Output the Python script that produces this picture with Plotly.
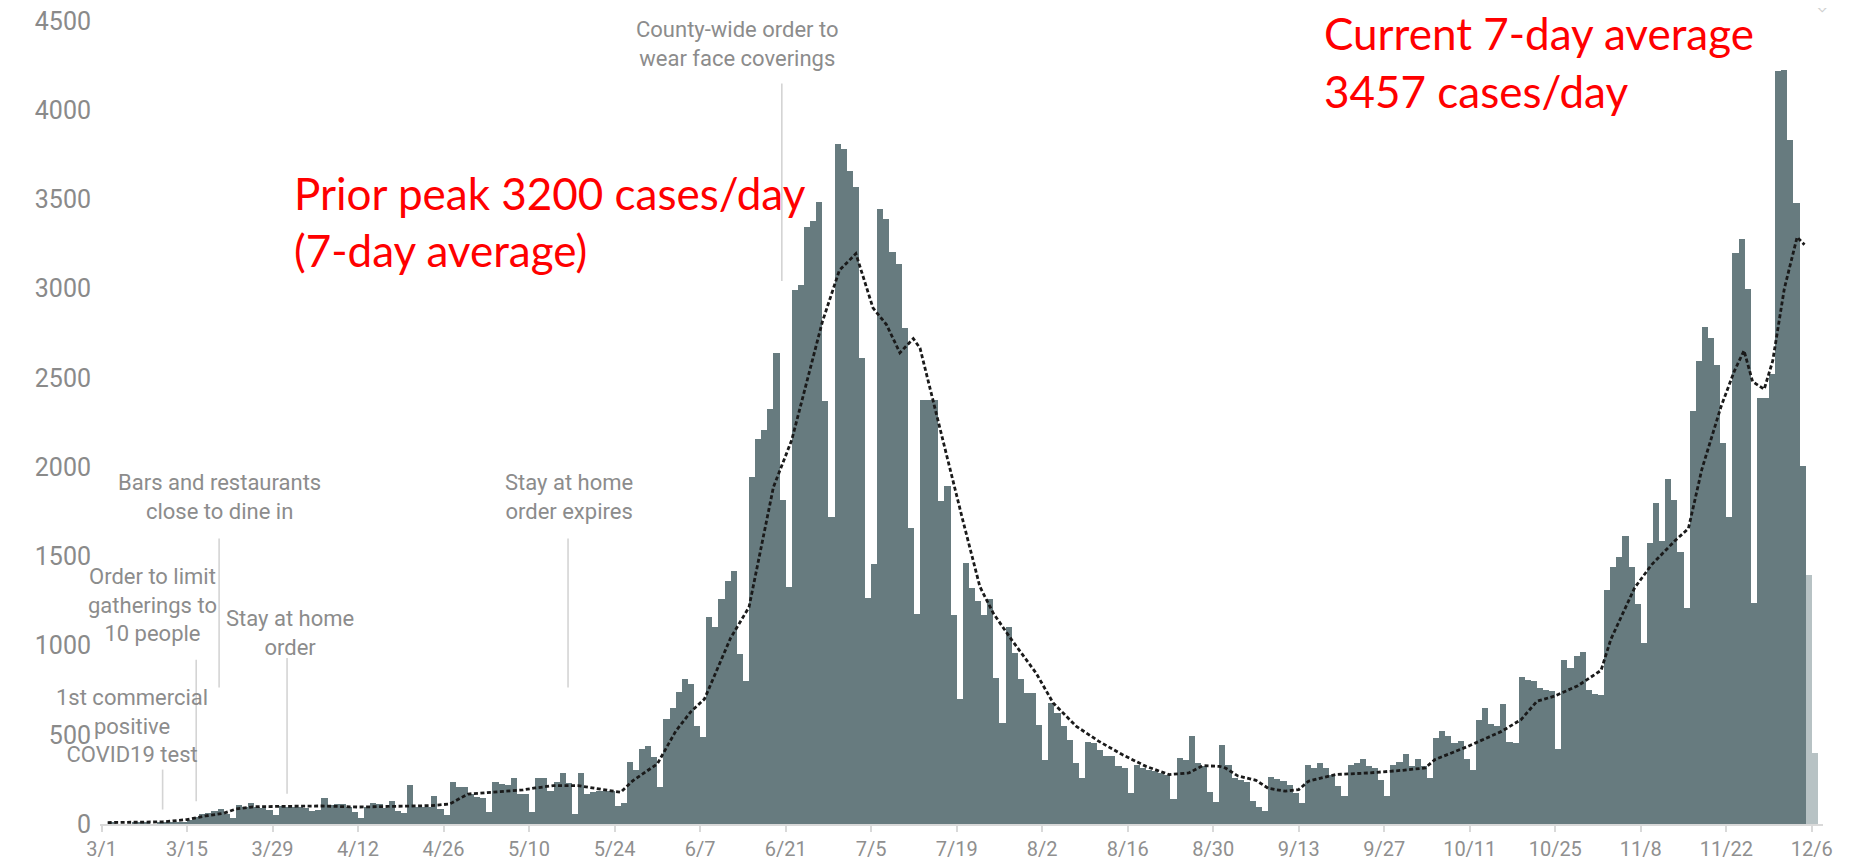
import pandas as pd
import plotly.graph_objects as go

# ---------------- data (daily new cases, 2020) ----------------
start_date = "2020-03-01"
mar = [0, 8, 0, 0, 0, 6, 6, 6, 0, 8, 8, 10, 10, 12, 20, 41, 54, 60, 73, 82, 54, 36, 107, 97, 120, 97, 92, 78, 50, 101, 97]
apr = [97, 97, 92, 73, 78, 148, 107, 110, 110, 97, 69, 36, 97, 116, 110, 92, 131, 73, 60, 220, 93, 93, 93, 155, 84, 52, 234, 209, 206, 168]
may = [150, 146, 65, 234, 224, 220, 258, 168, 168, 65, 258, 258, 187, 234, 286, 228, 56, 286, 168, 178, 187, 187, 183, 103, 116, 348, 305, 420, 436, 374, 206]
jun = [589, 651, 742, 810, 785, 552, 490, 1159, 1106, 1262, 1363, 1416, 953, 802, 1945, 2156, 2209, 2323, 2638, 1818, 1328, 2990, 3022, 3347, 3379, 3485, 2373, 1720, 3810, 3784]
jul = [3659, 3572, 2612, 1265, 1455, 3445, 3392, 3207, 3136, 2778, 1659, 1177, 2375, 2375, 2375, 1808, 1894, 1172, 700, 1461, 1321, 1247, 1172, 1259, 818, 566, 1103, 961, 812, 734, 734]
aug = [557, 361, 678, 622, 547, 473, 342, 258, 458, 454, 417, 380, 380, 323, 314, 174, 333, 314, 305, 295, 286, 277, 140, 370, 361, 495, 342, 323, 178, 122, 443]
sep = [333, 258, 245, 234, 128, 96, 72, 264, 255, 243, 217, 174, 115, 329, 314, 342, 314, 277, 212, 159, 329, 342, 365, 324, 314, 249, 159, 333, 346, 393]
oct = [324, 365, 324, 258, 482, 519, 495, 454, 467, 365, 301, 581, 648, 562, 551, 672, 458, 454, 823, 808, 799, 760, 751, 746, 422, 919, 876, 939, 962, 751, 731]
nov = [722, 1309, 1439, 1497, 1613, 1439, 1231, 1014, 1575, 1800, 1584, 1931, 1815, 1526, 1208, 2312, 2595, 2783, 2725, 2572, 2133, 1720, 3202, 3280, 3000, 1237, 2387, 2387, 2523, 4219]
dec = [4225, 3832, 3482, 2009, 1396, 399]
incomplete_days = 2  # last days shown in lighter colour

# 7-day average, read at points (days after 3/1, cases/day)
avg_day = [1, 5, 10, 14, 17, 20, 22, 25, 30, 36, 42, 48, 54, 57, 60, 64, 69, 71, 74, 78, 81, 85, 87, 91, 94, 96.5,
           98.7, 103, 106, 110, 113, 118, 120.8, 123.5, 124.6, 126.3, 128.5, 130.7, 132.9, 134, 136.2, 139, 141,
           143.8, 146, 149, 153, 155.8, 159.6, 163.3, 167.1, 171, 174.8, 178, 180.3, 183, 184, 186, 189, 191,
           193.8, 196, 197.6, 202, 207.4, 213, 216.7, 218.3, 223.7, 229.2, 232.4, 235, 237.9, 241.7, 245.5, 247.1,
           251, 253.8, 257.5, 259.8, 262, 265.1, 267.3, 268.9, 270.3, 272.2, 273.6, 275.5, 277.6, 278.8]
avg_val = [8, 8, 12, 25, 45, 60, 84, 97, 97, 101, 95, 100, 103, 112, 168, 178, 191, 202, 215, 215, 200, 178, 243, 337, 520, 630,
           700, 1043, 1215, 1888, 2152, 2813, 3103, 3196, 3077, 2892, 2799, 2641, 2720, 2667, 2364, 1968, 1703,
           1330, 1181, 1032, 846, 678, 547, 463, 389, 323, 277, 286, 327, 323, 314, 270, 245, 200,
           184, 193, 240, 277, 286, 301, 314, 361, 435, 519, 585, 688, 717, 775, 861, 1035,
           1324, 1454, 1584, 1656, 1988, 2335, 2537, 2653, 2480, 2436, 2595, 3000, 3289, 3246]

# event notes: (date of marker, text)
event_dates = ["2020-03-11 00:00", "2020-03-16 12:00", "2020-03-20 06:00", "2020-03-31 09:00", "2020-05-16 09:00", "2020-06-20 09:00"]
event_texts = ["1st commercial<br>positive<br>COVID19 test",
               "Order to limit<br>gatherings to<br>10 people",
               "Bars and restaurants<br>close to dine in",
               "Stay at home<br>order",
               "Stay at home<br>order expires",
               "County-wide order to<br>wear face coverings"]
red_notes = [["Prior peak 3200 cases/day", "(7-day average)"],
             ["Current 7-day average", "3457 cases/day"]]

y_ticks = [0, 500, 1000, 1500, 2000, 2500, 3000, 3500, 4000, 4500]

# ---------------- figure ----------------
cases = mar + apr + may + jun + jul + aug + sep + oct + nov + dec
base = pd.Timestamp(start_date)
days = pd.date_range(start_date, periods=len(cases), freq="D")
centers = days + pd.Timedelta(hours=12)
n = len(cases)
bar_colors = ["#677b7f"] * (n - incomplete_days) + ["#b7c2c4"] * incomplete_days

fig = go.Figure()
fig.add_trace(go.Bar(x=centers, y=cases, marker=dict(color=bar_colors, line=dict(width=0)),
                     width=[86400000] * n, hoverinfo="x+y"))
avg_x = [base + pd.Timedelta(days=d) for d in avg_day]
fig.add_trace(go.Scatter(x=avg_x, y=avg_val, mode="lines",
                         line=dict(color="#1a1a1a", width=2.8, dash="4px,2.5px")))

# vertical pointer lines for events (value ranges)
line_spans = [(305, 81), (920, 128), (1600, 765), (930, 170), (1600, 765), (4150, 3043)]
for dt, (y1, y0) in zip(event_dates, line_spans):
    fig.add_shape(type="line", xref="x", yref="y", x0=dt, x1=dt, y0=y0, y1=y1,
                  line=dict(color="#d4d4d4", width=1.6), layer="above")

# event text positions (x in days after 3/1, y in cases)
text_pos = [(4.95, 551), (8.4, 1228), (19.3, 1835), (30.9, 1072), (76.6, 1835), (104.2, 4370)]
for (d, yv), txt in zip(text_pos, event_texts):
    fig.add_annotation(x=base + pd.Timedelta(days=d), y=yv, xref="x", yref="y", text=txt,
                       showarrow=False, xanchor="center", yanchor="middle", align="center",
                       font=dict(family="Roboto, Arial", size=22, color="#8c8c8c"))

red_pos = [[(31.2, 3534), (31.2, 3215)], [(199.8, 4430), (199.8, 4106)]]
for lines, poss in zip(red_notes, red_pos):
    for txt, (d, yv) in zip(lines, poss):
        fig.add_annotation(x=base + pd.Timedelta(days=d), y=yv, xref="x", yref="y", text=txt,
                           showarrow=False, xanchor="left", yanchor="middle",
                           font=dict(family="Lato, Noto Sans", size=44, color="#ff0000"))

# small download icon top-right
fig.add_annotation(xref="paper", yref="paper", x=0.9995, y=1.02, xanchor="center", yanchor="middle",
                   text="⇩", showarrow=False, font=dict(size=22, color="#cfcfcf"))

fig.update_layout(
    width=1850, height=863,
    margin=dict(l=92, r=35, t=13, b=46.5, autoexpand=False),
    paper_bgcolor="white", plot_bgcolor="white",
    showlegend=False, bargap=0,
    font=dict(family="Roboto, Arial", color="#8a8a8a"),
)
fig.update_xaxes(type="date", range=["2020-02-29 18:00", "2020-12-07 20:00"], automargin=False,
                 tick0=start_date, dtick=14 * 86400000, tickformat="%-m/%-d",
                 showgrid=False, zeroline=False, showline=True, linecolor="#d9d9d9", linewidth=2,
                 ticks="outside", ticklen=6, tickcolor="#d9d9d9", tickwidth=1.5,
                 ticklabeloverflow="allow",
                 tickfont=dict(size=20, color="#8f8f8f"))
fig.update_yaxes(range=[0, 4500], tickvals=y_ticks, showgrid=False, zeroline=False, showline=False,
                 automargin=False, ticks="", tickfont=dict(size=25, color="#8a8a8a"), ticklabelstandoff=8,
                 ticklabeloverflow="allow")

fig.write_html("out.html")
